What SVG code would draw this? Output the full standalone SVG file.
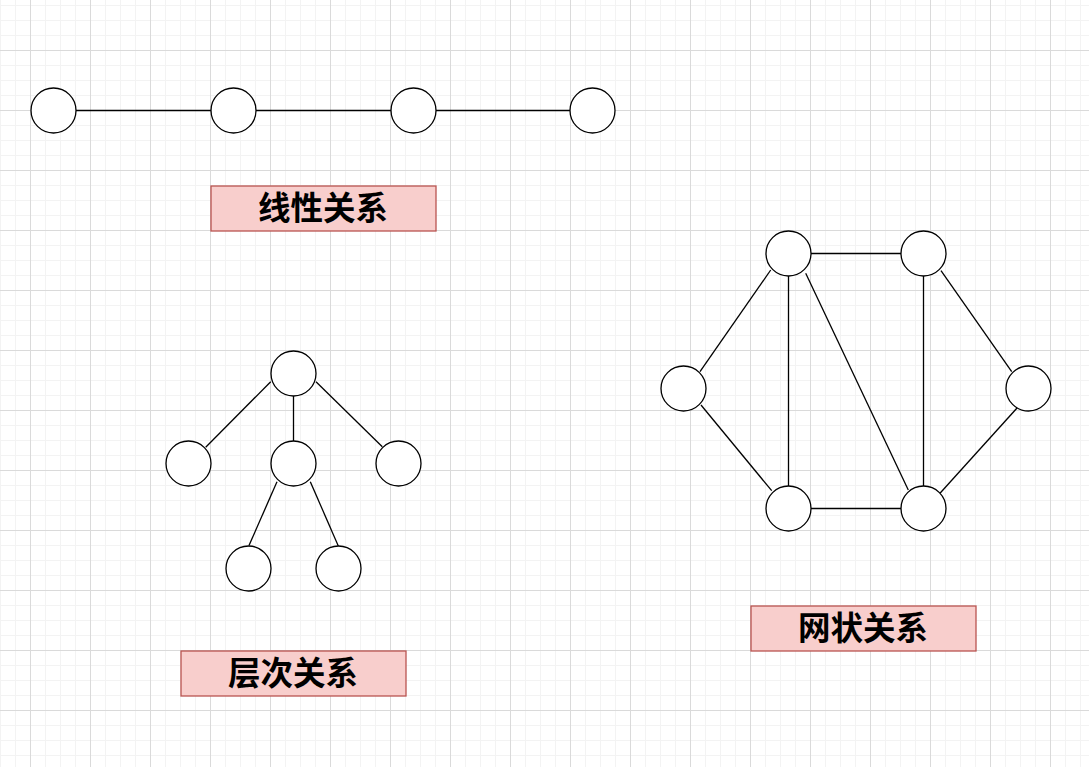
<svg xmlns="http://www.w3.org/2000/svg" width="1089" height="767" viewBox="0 0 1089 767">
<defs>
<pattern id="grid" patternUnits="userSpaceOnUse" x="30" y="50" width="60" height="60">
<path d="M15.5 0V60M30.5 0V60M45.5 0V60M0 15.5H60M0 30.5H60M0 45.5H60" stroke="#f3f3f3" stroke-width="1" fill="none"/>
<path d="M0.5 0V60M0 0.5H60" stroke="#dadada" stroke-width="1" fill="none"/>
</pattern>
</defs>
<style>
.n{fill:#ffffff;stroke:#000000;stroke-width:1.3}
.e{stroke:#000000;stroke-width:1.3;fill:none}
.lb{fill:#f8cecc;stroke:#b85450;stroke-width:1.3}
.t{font-family:"Noto Sans CJK SC","Noto Sans",sans-serif;font-weight:bold;font-size:32.5px;fill:#000000;text-anchor:middle}
</style>
<rect width="1089" height="767" fill="#ffffff"/>
<rect width="1089" height="767" fill="url(#grid)"/>
<g id="connectors">
<line class="e" x1="76" y1="110.5" x2="211" y2="110.5"/>
<line class="e" x1="256" y1="110.5" x2="391" y2="110.5"/>
<line class="e" x1="436" y1="110.5" x2="570" y2="110.5"/>
<line class="e" x1="270.7" y1="381.7" x2="205.7" y2="447.3"/>
<line class="e" x1="293.5" y1="396" x2="293.5" y2="441"/>
<line class="e" x1="316" y1="381.7" x2="382.3" y2="446.7"/>
<line class="e" x1="277" y1="481.7" x2="249" y2="545.5"/>
<line class="e" x1="310.3" y1="481.7" x2="338.3" y2="546"/>
<line class="e" x1="811" y1="253.5" x2="901" y2="253.5"/>
<line class="e" x1="770.7" y1="270" x2="700" y2="371.7"/>
<line class="e" x1="788.5" y1="276" x2="788.5" y2="486"/>
<line class="e" x1="805.7" y1="273.3" x2="908.3" y2="490"/>
<line class="e" x1="923.5" y1="276" x2="923.5" y2="486"/>
<line class="e" x1="941" y1="270.7" x2="1011.7" y2="371.7"/>
<line class="e" x1="701" y1="405" x2="771.7" y2="490.7"/>
<line class="e" x1="811" y1="508.5" x2="901" y2="508.5"/>
<line class="e" x1="1017.7" y1="407.3" x2="940" y2="493.3"/>
</g>
<g id="linear-1"><circle class="n" cx="53.5" cy="110.5" r="22.5"/></g>
<g id="linear-2"><circle class="n" cx="233.5" cy="110.5" r="22.5"/></g>
<g id="linear-3"><circle class="n" cx="413.5" cy="110.5" r="22.5"/></g>
<g id="linear-4"><circle class="n" cx="592.5" cy="110.5" r="22.5"/></g>
<g id="label-linear"><rect class="lb" x="211" y="186" width="225" height="45"/><text class="t" x="323" y="219.5">线性关系</text></g>
<g id="tree-root"><circle class="n" cx="293.5" cy="373.5" r="22.5"/></g>
<g id="tree-left"><circle class="n" cx="188.5" cy="463.5" r="22.5"/></g>
<g id="tree-mid"><circle class="n" cx="293.5" cy="463.5" r="22.5"/></g>
<g id="tree-right"><circle class="n" cx="398.5" cy="463.5" r="22.5"/></g>
<g id="tree-bl"><circle class="n" cx="248.5" cy="568.5" r="22.5"/></g>
<g id="tree-br"><circle class="n" cx="338.5" cy="568.5" r="22.5"/></g>
<g id="label-tree"><rect class="lb" x="181" y="651" width="225" height="45"/><text class="t" x="293" y="685">层次关系</text></g>
<g id="mesh-tl"><circle class="n" cx="788.5" cy="253.5" r="22.5"/></g>
<g id="mesh-tr"><circle class="n" cx="923.5" cy="253.5" r="22.5"/></g>
<g id="mesh-l"><circle class="n" cx="683.5" cy="388.5" r="22.5"/></g>
<g id="mesh-r"><circle class="n" cx="1028.5" cy="388.5" r="22.5"/></g>
<g id="mesh-bl"><circle class="n" cx="788.5" cy="508.5" r="22.5"/></g>
<g id="mesh-br"><circle class="n" cx="923.5" cy="508.5" r="22.5"/></g>
<g id="label-mesh"><rect class="lb" x="751" y="606" width="225" height="45"/><text class="t" x="863" y="640">网状关系</text></g>
</svg>
